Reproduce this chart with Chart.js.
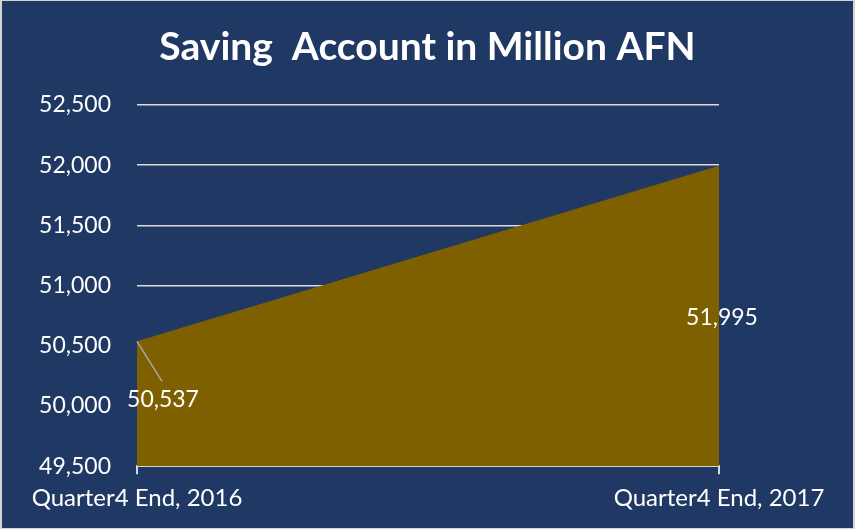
<!DOCTYPE html>
<html>
<head>
<meta charset="utf-8">
<script src="https://cdn.jsdelivr.net/npm/chart.js@4"></script>
<style>
    html, body { margin: 0; padding: 0; background: #ffffff; }
    #wrap { width: 855px; height: 529px; box-sizing: border-box; border: 2px solid #d4d4d4; border-bottom-width: 1px; border-top-width: 1px; background: #203864; }
    canvas { display: block; }
</style>
</head>
<body>
<div id="wrap"><canvas id="savingChart" width="851" height="527"></canvas></div>
<script>
//// Declarations

// Data
const quarters = ["Quarter4 End, 2016", "Quarter4 End, 2017"];
const savingValues = [50537, 51995];
const yTicks = [49500, 50000, 50500, 51000, 51500, 52000, 52500];

const chartTitle = "Saving  Account in Million AFN";

const colors = {
    fill: '#7f6000',
    grid: '#d9d9d9',
    text: '#ffffff',
    leader: '#a6a6a6'
};

const fontFamily = 'Lato, "Open Sans", sans-serif';

const formatNumber = (v) => v.toLocaleString('en-US');

// title centred on the whole canvas (built-in title would centre within the padded box)
const canvasTitle = {
    id: 'canvasTitle',
    afterDraw(chart) {
        const ctx = chart.ctx;
        ctx.save();
        ctx.font = 'bold 39px ' + fontFamily;
        ctx.fillStyle = colors.text;
        ctx.textAlign = 'center';
        ctx.textBaseline = 'alphabetic';
        ctx.fillText(chartTitle, chart.width / 2, 59);
        ctx.restore();
    }
};

// data labels, drawn from the scales (no datalabels plugin available offline)
const valueLabels = {
    id: 'valueLabels',
    afterDatasetsDraw(chart) {
        const ctx = chart.ctx;
        const meta = chart.getDatasetMeta(0);
        ctx.save();
        ctx.font = '23px ' + fontFamily;
        ctx.fillStyle = colors.text;
        ctx.textAlign = 'center';
        ctx.textBaseline = 'middle';
        meta.data.forEach((pt, i) => {
            const text = formatNumber(savingValues[i]);
            if (i === 0) {
                // label pulled down and right, with a leader line
                ctx.strokeStyle = colors.leader;
                ctx.lineWidth = 1.5;
                ctx.beginPath();
                ctx.moveTo(pt.x, pt.y);
                ctx.lineTo(pt.x + 25, pt.y + 40);
                ctx.stroke();
                ctx.fillText(text, pt.x + 26, pt.y + 58);
            } else {
                ctx.fillText(text, pt.x + 3, pt.y + 152);
            }
        });
        ctx.restore();
    }
};

//// Execution
window.onload = () => {
    const canvas = document.getElementById('savingChart');

    new Chart(canvas, {
        type: 'line',
        data: {
            labels: quarters,
            datasets: [{
                label: 'Saving Account',
                data: savingValues,
                fill: 'start',
                backgroundColor: colors.fill,
                borderColor: colors.fill,
                borderWidth: 0,
                pointRadius: 0,
                tension: 0
            }]
        },
        options: {
            responsive: false,
            animation: false,
            layout: { padding: { left: 0, right: 134, top: 104, bottom: 5 } },
            plugins: {
                legend: { display: false },
                tooltip: { enabled: false },
                title: { display: false }
            },
            scales: {
                x: {
                    offset: false,
                    grid: {
                        display: true,
                        drawOnChartArea: false,
                        drawTicks: true,
                        tickLength: 8,
                        color: colors.grid,
                        lineWidth: 2
                    },
                    border: { display: true, color: colors.grid, width: 2 },
                    ticks: {
                        color: colors.text,
                        font: { family: fontFamily, size: 24 },
                        maxRotation: 0,
                        padding: 10,
                        align: 'center'
                    }
                },
                y: {
                    min: yTicks[0],
                    max: yTicks[yTicks.length - 1],
                    afterBuildTicks: (scale) => {
                        scale.ticks = yTicks.map(v => ({ value: v }));
                    },
                    afterFit: (scale) => { scale.width = 135; },
                    grid: {
                        color: (c) => c.tick && c.tick.value === yTicks[0] ? 'rgba(0,0,0,0)' : colors.grid,
                        lineWidth: 1.5,
                        drawTicks: false
                    },
                    border: { display: false },
                    ticks: {
                        color: colors.text,
                        font: { family: fontFamily, size: 23 },
                        padding: 26,
                        callback: (v) => formatNumber(v)
                    }
                }
            }
        },
        plugins: [valueLabels, canvasTitle]
    });
};
</script>
</body>
</html>
